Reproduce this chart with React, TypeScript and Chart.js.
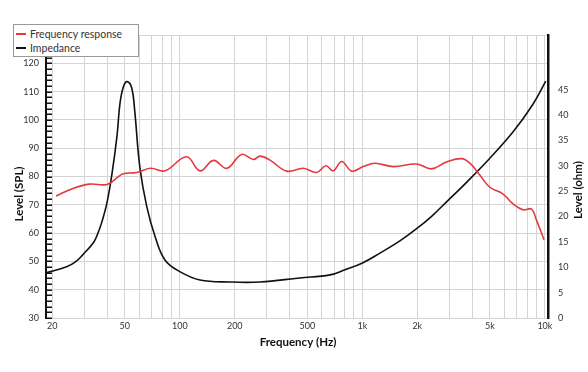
import React, { useEffect, useRef } from 'react';
import { Chart, registerables } from 'chart.js';

Chart.register(...registerables);

// Frequency response (left axis, dB SPL)
const responseHz = [21, 26, 32, 40, 46, 49, 58, 69, 83, 109, 129, 153, 181, 218, 253, 275, 312, 385, 475, 562, 632, 693, 771, 874, 1011, 1172, 1476, 1982, 2394, 2891, 3495, 3882, 4402, 4994, 5903, 6698, 7597, 8443, 8990, 9897];
const responseDb = [73.1, 75.8, 77.3, 77.2, 79.9, 81.0, 81.4, 82.9, 82.0, 87.0, 82.0, 85.7, 82.9, 87.8, 86.0, 87.2, 85.8, 81.9, 82.9, 81.4, 83.8, 82.0, 85.3, 81.9, 83.5, 84.7, 83.5, 84.4, 82.7, 85.1, 86.3, 84.7, 80.5, 76.2, 73.8, 70.3, 68.2, 68.5, 64.6, 57.6];

// Impedance (right axis, ohm)
const impedanceHz = [18.5, 24, 26.7, 29.3, 33.7, 35.5, 37.4, 39.9, 42.4, 45.3, 47, 49.1, 51.5, 54.6, 56.6, 60.4, 65.9, 73.3, 83.1, 100.6, 129, 188, 275, 453, 665, 803, 995, 1249, 1606, 1983, 2404, 2893, 3783, 4994, 6698, 8619, 10108];
const impedanceOhm = [8.9, 10.1, 11.0, 12.4, 14.9, 16.6, 18.9, 22.7, 28.1, 35.9, 42.2, 45.6, 46.6, 45.3, 41.0, 29.8, 22.0, 16.0, 11.4, 9.1, 7.5, 7.1, 7.1, 7.9, 8.5, 9.5, 10.8, 12.8, 15.2, 17.6, 20.1, 22.9, 27.0, 31.5, 36.7, 42.2, 46.7];

// Axis ticks
const freqGridTicks = [20, 30, 40, 50, 60, 70, 80, 90, 100, 200, 300, 400, 500, 600, 700, 800, 900, 1000, 2000, 3000, 4000, 5000, 6000, 7000, 8000, 9000, 10000];
const freqLabels: Record<number, string> = { 20: '20', 50: '50', 100: '100', 200: '200', 500: '500', 1000: '1k', 2000: '2k', 5000: '5k', 10000: '10k' };
const splTicks = [30, 40, 50, 60, 70, 80, 90, 100, 110, 120, 130];
const ohmTicks = [0, 5, 10, 15, 20, 25, 30, 35, 40, 45];

const RED = '#e5383f';
const BLACK = '#111111';
const GRID = '#d4d4d4';
const FONT = 'Lato, "Noto Sans", sans-serif';

const decorPlugin = {
  id: 'decor',
  afterDraw(chart: any) {
    const ctx = chart.ctx;
    const y = chart.scales.y;
    const area = chart.chartArea;
    ctx.save();
    // inward minor ticks on left axis
    ctx.strokeStyle = BLACK;
    ctx.lineWidth = 1.5;
    for (let v = 30; v <= 130; v += 2) {
      const py = Math.round(y.getPixelForValue(v)) + 0.25;
      ctx.beginPath();
      ctx.moveTo(area.left, py);
      ctx.lineTo(area.left + 6, py);
      ctx.stroke();
    }
    // axis titles
    ctx.fillStyle = BLACK;
    ctx.font = `bold 11.5px ${FONT}`;
    ctx.textAlign = 'center';
    ctx.textBaseline = 'middle';
    ctx.fillText('Frequency (Hz)', 298, 342);
    ctx.save();
    ctx.translate(19, 194);
    ctx.rotate(-Math.PI / 2);
    ctx.fillText('Level (SPL)', 0, 0);
    ctx.restore();
    ctx.save();
    ctx.translate(578, 190);
    ctx.rotate(-Math.PI / 2);
    ctx.fillText('Level (ohm)', 0, 0);
    ctx.restore();
    ctx.restore();
  },
};

export default function App() {
  const ref = useRef<HTMLCanvasElement | null>(null);

  useEffect(() => {
    if (!ref.current) return;
    const chart = new Chart(ref.current, {
      type: 'line',
      data: {
        datasets: [
          {
            label: 'Frequency response',
            data: responseHz.map((f, i) => ({ x: f, y: responseDb[i] })),
            borderColor: RED,
            borderWidth: 1.6,
            pointRadius: 0,
            tension: 0.4,
            yAxisID: 'y',
          },
          {
            label: 'Impedance',
            data: impedanceHz.map((f, i) => ({ x: f, y: impedanceOhm[i] })),
            borderColor: BLACK,
            borderWidth: 1.6,
            pointRadius: 0,
            tension: 0.4,
            yAxisID: 'y1',
          },
        ],
      },
      options: {
        animation: false,
        responsive: false,
        layout: { padding: { top: 35, left: 0, right: 0, bottom: 0 } },
        plugins: { legend: { display: false }, tooltip: { enabled: false } },
        scales: {
          x: {
            type: 'logarithmic',
            min: 18.5,
            max: 10400,
            afterBuildTicks: (s: any) => {
              s.ticks = freqGridTicks.map((v) => ({ value: v }));
            },
            afterFit: (s: any) => {
              s.height = 54;
            },
            ticks: {
              autoSkip: false,
              maxRotation: 0,
              padding: 3,
              color: '#333',
              font: { family: FONT, size: 9 },
              callback: (v: any) => freqLabels[Number(v)] ?? '',
            },
            grid: { color: GRID, lineWidth: 1, drawTicks: false },
            border: { display: false },
          },
          y: {
            position: 'left',
            min: 30,
            max: 130,
            afterBuildTicks: (s: any) => {
              s.ticks = splTicks.map((v) => ({ value: v }));
            },
            afterFit: (s: any) => {
              s.width = 46;
            },
            ticks: {
              padding: 7,
              color: '#333',
              font: { family: FONT, size: 9 },
              callback: (v: any) => (Number(v) === 130 ? '' : String(v)),
            },
            grid: { color: GRID, lineWidth: 1, drawTicks: false },
            border: { display: true, color: BLACK, width: 2 },
          },
          y1: {
            position: 'right',
            min: 0,
            max: 55.8,
            afterBuildTicks: (s: any) => {
              s.ticks = ohmTicks.map((v) => ({ value: v }));
            },
            afterFit: (s: any) => {
              s.width = 40;
            },
            ticks: {
              padding: 10,
              color: '#333',
              font: { family: FONT, size: 9 },
            },
            grid: { display: false, drawTicks: false },
            border: { display: true, color: BLACK, width: 2.5 },
          },
        },
      } as any,
      plugins: [decorPlugin],
    });
    return () => chart.destroy();
  }, []);

  const legendText: React.CSSProperties = {
    position: 'absolute',
    left: 16,
    fontFamily: FONT,
    fontSize: 10.5,
    color: '#333',
    lineHeight: '14px',
    whiteSpace: 'nowrap',
  };

  return (
    <div style={{ position: 'absolute', left: 0, top: 0, width: 588, height: 372, background: '#fff' }}>
      <canvas ref={ref} width={588} height={372} style={{ display: 'block', width: 588, height: 372 }} />
      <div
        style={{
          position: 'absolute',
          left: 13,
          top: 24,
          width: 126,
          height: 33,
          border: '1px solid #999',
          background: '#fff',
          boxSizing: 'border-box',
        }}
      >
        <div style={{ position: 'absolute', left: 2, top: 8, width: 10, height: 2, background: RED }} />
        <div style={{ ...legendText, top: 2 }}>Frequency response</div>
        <div style={{ position: 'absolute', left: 2, top: 22, width: 10, height: 2, background: BLACK }} />
        <div style={{ ...legendText, top: 16 }}>Impedance</div>
      </div>
    </div>
  );
}
